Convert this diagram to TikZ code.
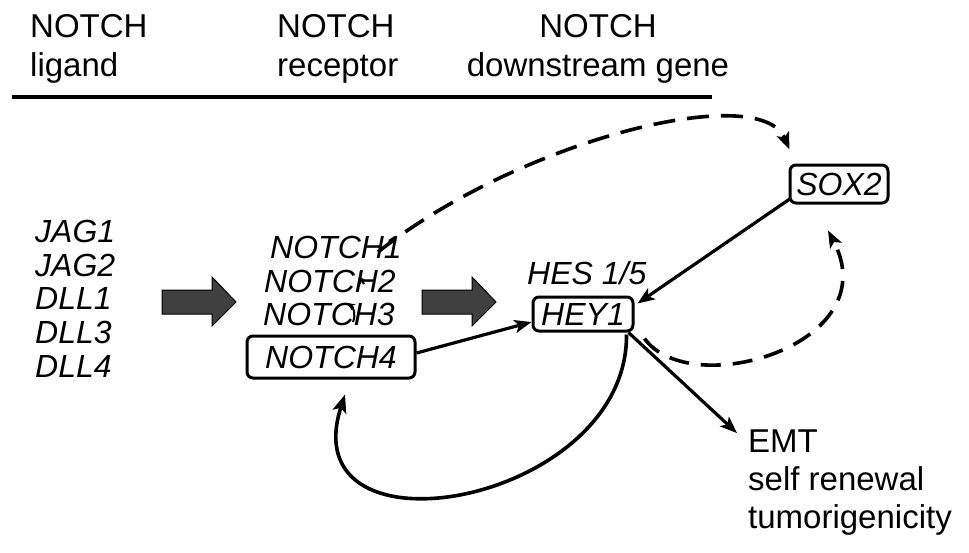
\documentclass[tikz,border=0pt]{standalone}
\usepackage{fontspec}
\setmainfont{Liberation Sans}
\usetikzlibrary{arrows.meta,calc}
\begin{document}
\begin{tikzpicture}[x=1pt,y=-1pt,
  hdr/.style={inner sep=0pt,font=\fontsize{33}{36}\selectfont,anchor=base west},
  gene/.style={inner sep=0pt,font=\fontsize{32}{36}\selectfont\itshape,anchor=base west},
  genebox/.style={draw,line width=3pt,rounded corners=6pt,inner sep=0pt,font=\fontsize{32}{36}\selectfont\itshape},
  conn/.style={line width=3.2pt,-{Stealth[length=17pt,width=13pt,inset=4pt]}},
  dconn/.style={line width=3.6pt,dash pattern=on 20pt off 12pt,-{Stealth[length=17pt,width=13pt,inset=4pt]}},
  small/.style={line width=2pt,-{Stealth[length=8pt,width=7pt]}},
  block/.style={draw=black,line width=1pt,fill=black!75}]
\useasboundingbox (0,0) rectangle (969,552);
% header
\node[hdr] (h1a) at (30,37) {NOTCH};
\node[hdr] (h1b) at (30,76) {ligand};
\node[hdr] (h2a) at (277,37) {NOTCH};
\node[hdr] (h2b) at (277,76) {receptor};
\node[hdr,anchor=base] (h3a) at (598,37) {NOTCH};
\node[hdr,anchor=base] (h3b) at (598,76) {downstream gene};
\coordinate (rl) at (12,97);
\coordinate (rr) at (712,97);
\draw[line width=3.2pt] (rl) -- (rr);
% ligands
\node[gene] (jag1) at (35,242) {JAG1};
\node[gene] (jag2) at (35,276) {JAG2};
\node[gene] (dll1) at (35,309) {DLL1};
\node[gene] (dll3) at (35,343) {DLL3};
\node[gene] (dll4) at (35,377) {DLL4};
% block arrows
\draw[block] (162,290) -- (212,290) -- (212,277) -- (236,302) -- (212,326) -- (212,314) -- (162,314) -- cycle;
\draw[block] (422,290) -- (472,290) -- (472,277) -- (496,302) -- (472,326) -- (472,314) -- (422,314) -- cycle;
% receptors
\node[gene] (n1) at (270,258) {NOTCH1};
\node[gene] (n2) at (264,292) {NOTCH2};
\node[gene] (n3) at (263,325) {NOTCH3};
\node[genebox,minimum width=168pt,minimum height=42pt] (n4) at (331,357) {NOTCH4};
% downstream
\node[gene] (hes) at (527,284) {HES 1/5};
\node[genebox,minimum width=100pt,minimum height=34pt] (hey) at (583,314) {HEY1};
\node[genebox,minimum width=98pt,minimum height=38pt] (sox) at (839,184) {SOX2};
% outcomes
\node[hdr] (emt) at (748,452) {EMT};
\node[hdr] (sr) at (748,490) {self renewal};
\node[hdr] (tum) at (748,528) {tumorigenicity};
% connectors
\draw[conn] ($(n4.east)+(0,-4)$) -- ($(hey.west)+(0,8)$);
\draw[conn] ($(sox.south west)+(2,-6)$) -- ($(hey.north east)+(3,8)$);
\draw[conn] ($(hey.south east)+(-6,0)$) -- ($(emt.north west)+(-11,4)$);
\draw[dconn] ($(hey.south east)+(10,6)$) .. controls (690,402) and (888,345) .. ($(sox.south)+(-11,26)$);
\draw[dconn,dash pattern=on 22pt off 12pt] ($(n1.base west)+(108,-6)$) .. controls (520,140) and (760,80) .. ($(sox.north west)+(1,-14)$);
\draw[line width=3.6pt,-{Stealth[length=18pt,width=14pt,inset=4pt]}] ($(hey.south east)+(-8,2)$) .. controls (628,505) and (290,565) .. ($(n4.south)+(14,15)$);
% small marks
\draw[small] ($(n3.base west)+(90,-3)$) to[bend right=40] ($(n3.base west)+(84,-22)$);
\draw[small] ($(n2.base west)+(100,-8)$) -- ($(n2.base west)+(95,-16)$);
\end{tikzpicture}
\end{document}
